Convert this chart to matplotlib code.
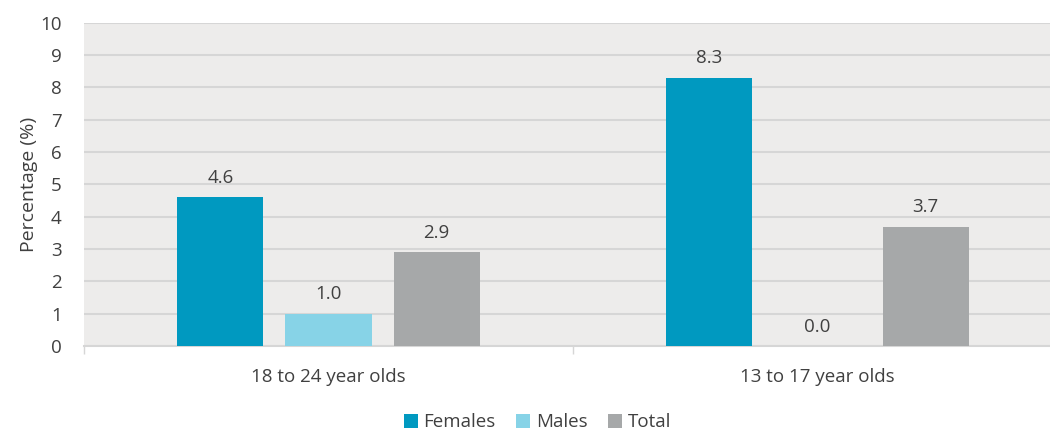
import matplotlib
matplotlib.use("Agg")
import matplotlib.pyplot as plt
import numpy as np

categories = ["18 to 24 year olds", "13 to 17 year olds"]
series = ["Females", "Males", "Total"]
females = [4.6, 8.3]
males = [1.0, 0.0]
total = [2.9, 3.7]
colors = ["#0099C0", "#87D3E7", "#A6A8A9"]
yticks = list(range(0, 11))

plt.rcParams["font.family"] = ["Open Sans", "DejaVu Sans"]
text_color = "#404040"

fig = plt.figure(figsize=(10.5, 4.3), dpi=100)
# plot area runs past the right edge of the image, as in the reference
ax = fig.add_axes([0.080, 0.195, 0.9314, 0.752])
ax.set_facecolor("#EDECEB")

x = np.arange(len(categories))
width = 0.176
offset = 0.221
for i, (name, vals, c) in enumerate(zip(series, [females, males, total], colors)):
    pos = x + (i - 1) * offset
    ax.bar(pos, vals, width, color=c, label=name, zorder=3)
    for px, v in zip(pos, vals):
        ax.text(px, v + 0.32, f"{v:.1f}", ha="center", va="bottom",
                fontsize=13.5, color=text_color)

ax.set_xlim(-0.5, len(categories) - 0.5)
ax.set_ylim(0, 10)
ax.set_yticks(yticks)
ax.grid(axis="y", color="#D6D6D6", linewidth=1.5, zorder=0)
ax.set_axisbelow(True)
for s in ["top", "right", "left"]:
    ax.spines[s].set_visible(False)
ax.spines["bottom"].set_color("#D6D6D6")
ax.spines["bottom"].set_linewidth(1.5)
ax.tick_params(axis="y", length=0, labelsize=13.5, labelcolor=text_color, pad=16)

# category boundaries as ticks, labels as minor
ax.set_xticks([-0.5, 0.5, 1.5])
ax.set_xticklabels([])
ax.tick_params(axis="x", which="major", length=6, color="#D6D6D6", width=1)
ax.set_xticks(x, minor=True)
ax.set_xticklabels(categories, minor=True)
ax.tick_params(axis="x", which="minor", length=0, labelsize=13.5,
               labelcolor=text_color, pad=16)

ax.set_ylabel("Percentage (%)", fontsize=14, color=text_color, labelpad=2)

leg = fig.legend(loc="center", bbox_to_anchor=(0.512, 0.018), ncol=3,
                 frameon=False, fontsize=13.5, handlelength=0.75, handleheight=0.75,
                 handletextpad=0.3, columnspacing=1.1)
for t in leg.get_texts():
    t.set_color(text_color)

fig.savefig("out.png", dpi=100)
